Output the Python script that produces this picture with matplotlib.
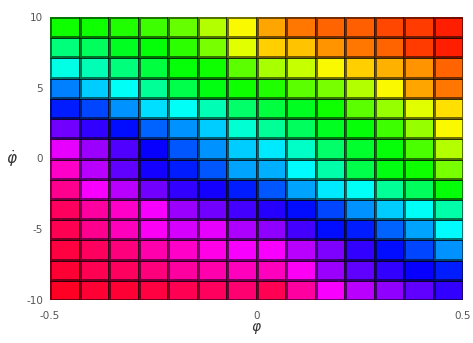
import matplotlib
matplotlib.use("Agg")
import matplotlib.pyplot as plt
import numpy as np

# cell edges of the grid
phi_edges = np.linspace(-0.5, 0.5, 15)
phidot_edges = np.linspace(-10, 10, 15)

# hue value (0..1) of each cell, rows listed from top (phidot=10) to bottom
hue_rows = [
    [0.33, 0.33, 0.32, 0.30, 0.27, 0.22, 0.17, 0.11, 0.08, 0.07, 0.065, 0.05, 0.04, 0.02],
    [0.42, 0.40, 0.36, 0.34, 0.31, 0.26, 0.19, 0.14, 0.13, 0.10, 0.08, 0.07, 0.04, 0.02],
    [0.49, 0.46, 0.42, 0.38, 0.34, 0.33, 0.28, 0.23, 0.21, 0.17, 0.14, 0.12, 0.10, 0.07],
    [0.59, 0.54, 0.50, 0.44, 0.39, 0.35, 0.33, 0.32, 0.28, 0.26, 0.22, 0.17, 0.11, 0.08],
    [0.66, 0.63, 0.58, 0.53, 0.50, 0.46, 0.41, 0.38, 0.36, 0.33, 0.28, 0.24, 0.19, 0.15],
    [0.75, 0.71, 0.67, 0.61, 0.58, 0.54, 0.48, 0.44, 0.40, 0.36, 0.34, 0.30, 0.24, 0.17],
    [0.83, 0.78, 0.73, 0.68, 0.62, 0.58, 0.54, 0.52, 0.47, 0.41, 0.37, 0.34, 0.29, 0.22],
    [0.88, 0.80, 0.74, 0.69, 0.66, 0.62, 0.57, 0.56, 0.51, 0.45, 0.39, 0.35, 0.33, 0.26],
    [0.92, 0.84, 0.80, 0.75, 0.71, 0.69, 0.66, 0.62, 0.57, 0.52, 0.50, 0.44, 0.40, 0.34],
    [0.95, 0.91, 0.88, 0.84, 0.78, 0.75, 0.72, 0.70, 0.67, 0.63, 0.58, 0.54, 0.50, 0.45],
    [0.96, 0.92, 0.89, 0.85, 0.82, 0.83, 0.79, 0.77, 0.72, 0.67, 0.66, 0.61, 0.57, 0.51],
    [0.97, 0.95, 0.93, 0.90, 0.88, 0.86, 0.84, 0.84, 0.80, 0.76, 0.71, 0.67, 0.63, 0.58],
    [0.98, 0.96, 0.95, 0.93, 0.91, 0.90, 0.89, 0.89, 0.85, 0.78, 0.74, 0.71, 0.68, 0.66],
    [0.99, 0.98, 0.98, 0.97, 0.96, 0.95, 0.94, 0.96, 0.91, 0.84, 0.80, 0.77, 0.74, 0.71],
]

x_ticks = [-0.5, 0, 0.5]
x_tick_labels = ["-0.5", "0", "0.5"]
y_ticks = [-10, -5, 0, 5, 10]
y_tick_labels = ["-10", "-5", "0", "5", "10"]

hue = np.array(hue_rows)[::-1]

fig = plt.figure(figsize=(4.73, 3.43), dpi=100)
ax = fig.add_axes([50 / 473, 1 - 300 / 343, 413 / 473, 283 / 343])
ax.pcolormesh(phi_edges, phidot_edges, hue, cmap="hsv", vmin=0, vmax=1,
              edgecolors=(0, 0, 0, 0.55), linewidth=0.8)
ax.set_xlim(-0.5, 0.5)
ax.set_ylim(-10, 10)

ax.set_xticks(x_ticks)
ax.set_xticklabels(x_tick_labels)
ax.set_yticks(y_ticks)
ax.set_yticklabels(y_tick_labels)
ax.tick_params(length=0, labelsize=7.5, labelcolor="#555555")
ax.tick_params(axis="x", pad=8)
ax.tick_params(axis="y", pad=5)
for s in ax.spines.values():
    s.set_visible(False)

ax.set_xlabel(r"$\varphi$", fontsize=10, color="#333333", labelpad=0)
ax.set_ylabel(r"$\dot{\varphi}$", fontsize=11, color="#333333", rotation=0,
              labelpad=10, va="center")

fig.savefig("out.png", dpi=100)
